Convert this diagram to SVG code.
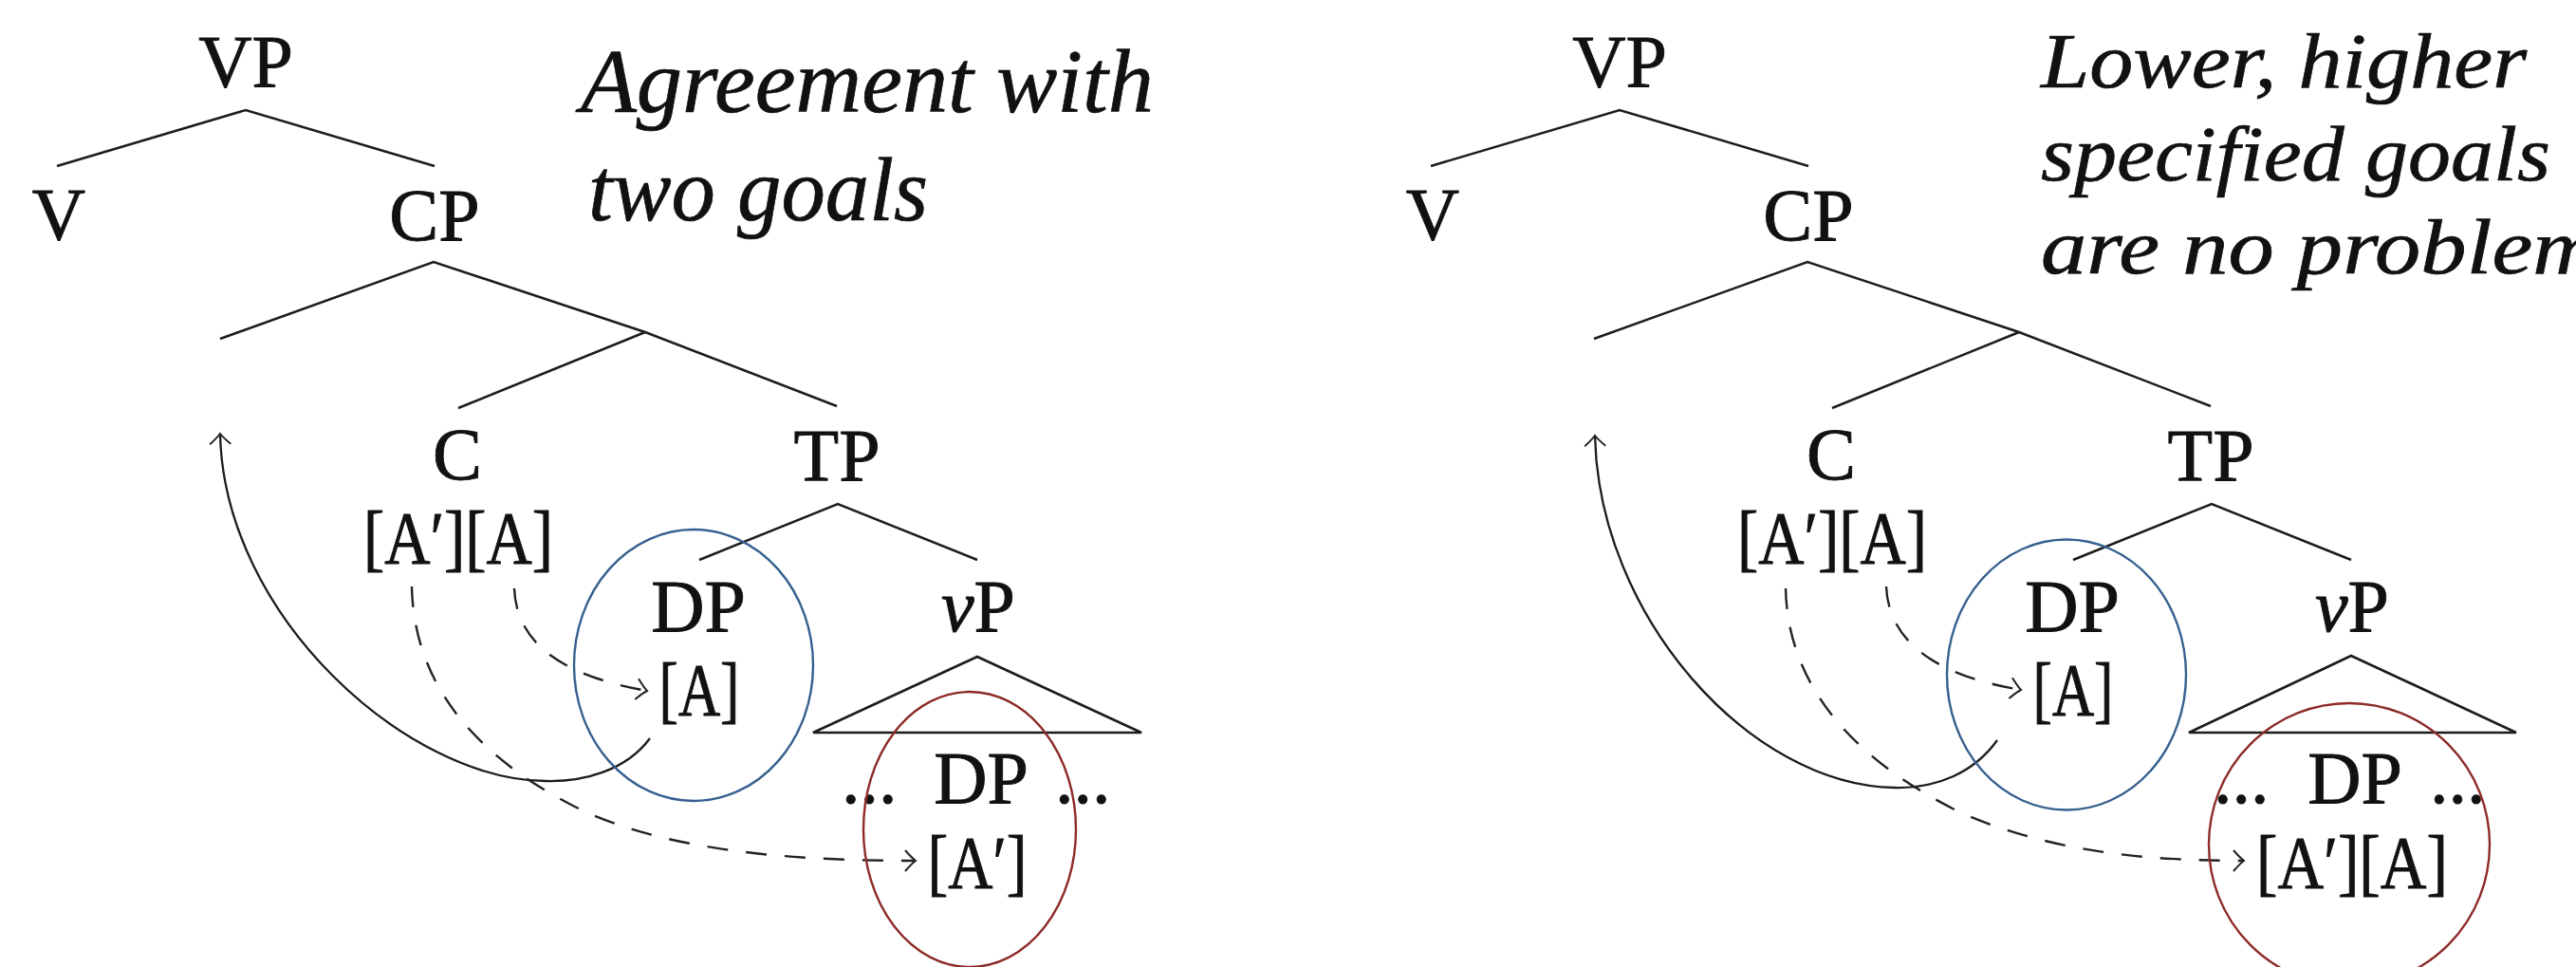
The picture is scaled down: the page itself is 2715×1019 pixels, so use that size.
<svg xmlns="http://www.w3.org/2000/svg" width="2715" height="1019" viewBox="0 0 2715 1019">
<style>
.lbl{font-family:"Liberation Serif","Times New Roman",serif;font-size:78px;fill:#111;stroke:#111;stroke-width:0.9;text-anchor:middle}
.dots{font-family:"Liberation Serif","Times New Roman",serif;font-size:78px;fill:#111;stroke:#111;stroke-width:0.9}
.note{font-family:"Liberation Serif","Times New Roman",serif;font-style:italic;fill:#111;stroke:#111;stroke-width:0.7}
.edge{stroke:#1c1c1c;stroke-width:2.5;fill:none;stroke-linejoin:miter}
.tri{stroke:#1c1c1c;stroke-width:2.7;fill:none}
.move{stroke:#1c1c1c;stroke-width:2.3;fill:none;marker-end:url(#ah)}
.dash{stroke:#222;stroke-width:2.4;fill:none;stroke-dasharray:22 19;marker-end:url(#ah)}
.blue{stroke:#36608f;stroke-width:2.4;fill:none}
.red{stroke:#8c2b28;stroke-width:2.4;fill:none}
</style>
<defs>
<marker id="ah" markerUnits="userSpaceOnUse" markerWidth="30" markerHeight="30" viewBox="-15 -15 30 30" refX="0" refY="0" orient="auto">
<path d="M -11 -11 Q -4 -3 0 0 Q -4 3 -11 11" fill="none" stroke="#222" stroke-width="2"/>
</marker>
</defs>
<rect width="2715" height="1019" fill="#fff"/>

<!-- LEFT DIAGRAM -->
<g id="left-connectors">
<polyline class="edge" points="60,175 259,116 458,175"/>
<polyline class="edge" points="232,357 457,276 680,350 882,428"/>
<polyline class="edge" points="483,430 680,350"/>
<polyline class="edge" points="737,590 883,531 1030,590"/>
<polygon class="tri" points="1030,692 857,772 1203,772"/>
<path class="move" d="M 685 778 C 660 812, 615 824, 575 823 C 430 822, 236 650, 232 457"/>
<path class="dash" d="M 434 618 C 436 720, 500 800, 620 857 C 720 900, 850 907, 965 907"/>
<path class="dash" d="M 542 620 C 544 670, 580 710, 682 728"/>
</g>
<g id="left-VP"><text class="lbl" x="259" y="91">VP</text></g>
<g id="left-V"><text class="lbl" x="62" y="252">V</text></g>
<g id="left-CP"><text class="lbl" x="458" y="253">CP</text></g>
<g id="left-C"><text class="lbl" x="482" y="505">C</text><text class="lbl" x="483" y="593" textLength="200" lengthAdjust="spacingAndGlyphs">[A′][A]</text></g>
<g id="left-TP"><text class="lbl" x="882" y="506">TP</text></g>
<g id="left-DP"><text class="lbl" x="736" y="665">DP</text><text class="lbl" x="737" y="753" textLength="85" lengthAdjust="spacingAndGlyphs">[A]</text></g>
<g id="left-vP"><text class="lbl" x="1031" y="665"><tspan font-style="italic">v</tspan>P</text></g>
<g id="left-lowDP"><text class="dots" x="887" y="846">...</text><text class="lbl" x="1034" y="846">DP</text><text class="dots" x="1112" y="846">...</text><text class="lbl" x="1030" y="935" textLength="105" lengthAdjust="spacingAndGlyphs">[A′]</text></g>
<g id="left-highlights">
<ellipse class="blue" cx="731" cy="701" rx="126" ry="143"/>
<ellipse class="red" cx="1022" cy="874" rx="112" ry="145"/>
</g>
<g id="left-caption">
<text class="note" x="612" y="118" font-size="95" textLength="604" lengthAdjust="spacingAndGlyphs">Agreement with</text>
<text class="note" x="620" y="232" font-size="95" textLength="358" lengthAdjust="spacingAndGlyphs">two goals</text>
</g>

<!-- RIGHT DIAGRAM -->
<g id="right-connectors">
<polyline class="edge" points="1508,175 1707,116 1906,175"/>
<polyline class="edge" points="1680,357 1905,276 2128,350 2330,428"/>
<polyline class="edge" points="1931,430 2128,350"/>
<polyline class="edge" points="2185,590 2331,531 2478,590"/>
<polygon class="tri" points="2478,691 2307,772 2652,772"/>
<path class="move" d="M 2105 780 C 2080 815, 2040 831, 1997 830 C 1845 828, 1685 650, 1681 459"/>
<path class="dash" d="M 1882 620 C 1884 720, 1950 800, 2070 858 C 2170 900, 2270 907, 2365 907"/>
<path class="dash" d="M 1988 618 C 1990 668, 2028 710, 2130 727"/>
</g>
<g id="right-VP"><text class="lbl" x="1707" y="91">VP</text></g>
<g id="right-V"><text class="lbl" x="1510" y="252">V</text></g>
<g id="right-CP"><text class="lbl" x="1906" y="253">CP</text></g>
<g id="right-C"><text class="lbl" x="1930" y="505">C</text><text class="lbl" x="1931" y="593" textLength="200" lengthAdjust="spacingAndGlyphs">[A′][A]</text></g>
<g id="right-TP"><text class="lbl" x="2330" y="506">TP</text></g>
<g id="right-DP"><text class="lbl" x="2184" y="665">DP</text><text class="lbl" x="2185" y="753" textLength="85" lengthAdjust="spacingAndGlyphs">[A]</text></g>
<g id="right-vP"><text class="lbl" x="2479" y="665"><tspan font-style="italic">v</tspan>P</text></g>
<g id="right-lowDP"><text class="dots" x="2333" y="846">...</text><text class="lbl" x="2482" y="846">DP</text><text class="dots" x="2561" y="846">...</text><text class="lbl" x="2479" y="935" textLength="202" lengthAdjust="spacingAndGlyphs">[A′][A]</text></g>
<g id="right-highlights">
<ellipse class="blue" cx="2178" cy="711" rx="126" ry="142.5"/>
<ellipse class="red" cx="2476" cy="890" rx="148" ry="149"/>
</g>
<g id="right-caption">
<text class="note" x="2151" y="92" font-size="82" textLength="512" lengthAdjust="spacingAndGlyphs">Lower, higher</text>
<text class="note" x="2151" y="190" font-size="82" textLength="537" lengthAdjust="spacingAndGlyphs">specified goals</text>
<text class="note" x="2151" y="288" font-size="82" textLength="588" lengthAdjust="spacingAndGlyphs">are no problem</text>
</g>
</svg>
